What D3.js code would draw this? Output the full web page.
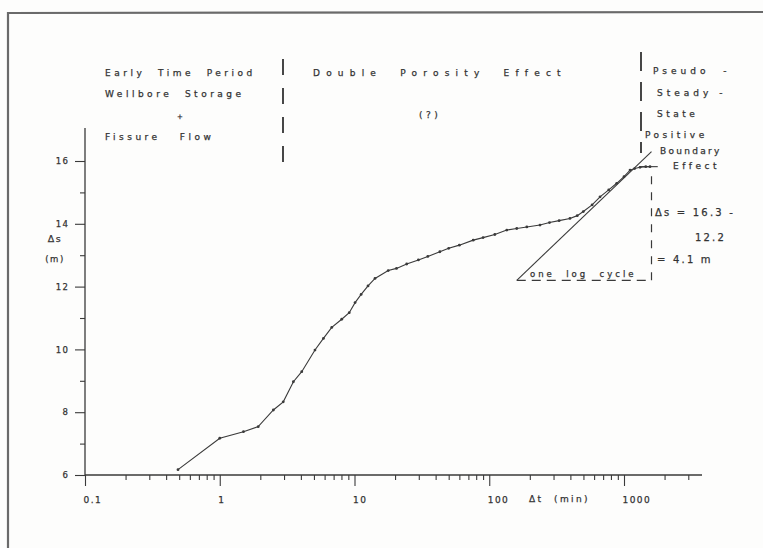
<!DOCTYPE html>
<html>
<head>
<meta charset="utf-8">
<script src="https://cdn.jsdelivr.net/npm/d3@7"></script>
<style>
  html, body { margin: 0; padding: 0; background: #fdfdfc; }
  svg { display: block; }
  text { font-family: "DejaVu Sans", sans-serif; fill: #333; stroke: #333; stroke-width: 0.25px; white-space: pre; }
</style>
</head>
<body>
<svg id="chart" width="763" height="548"></svg>
<script>
// Drawdown during the pressure test (semi-log plot)
const timeMin = [0.49, 1.0, 1.5, 1.93, 2.5, 2.96, 3.52, 4.06, 5.09, 5.88, 6.78, 8.04, 9.14, 10.1,
  11.2, 12.6, 14.2, 17.8, 20.5, 24.4, 29.8, 35, 43, 50, 60, 76, 90, 110, 135, 160, 190, 238,
  280, 330, 397, 450, 499, 580, 664, 770, 883, 1000, 1109, 1200, 1315, 1450, 1560];
const drawdownM = [6.17, 7.17, 7.38, 7.54, 8.07, 8.33, 8.97, 9.29, 9.98, 10.35, 10.70, 10.96, 11.17, 11.49,
  11.75, 12.02, 12.26, 12.51, 12.58, 12.72, 12.85, 12.96, 13.11, 13.22, 13.32, 13.48, 13.56, 13.66, 13.80, 13.85, 13.90, 13.96,
  14.04, 14.10, 14.17, 14.26, 14.39, 14.60, 14.86, 15.08, 15.29, 15.50, 15.71, 15.76, 15.80, 15.82, 15.82];

// straight line fitted through the late-time data, spanning one log cycle
const slopeTimes = [160, 1600];
const slopeDrawdown = [12.2, 16.3];

const xMajorTicks = [0.1, 1, 10, 100, 1000];
const xMajorLabels = ["0.1", "1", "10", "100", "1000"];
const yMajorTicks = [6, 8, 10, 12, 14, 16];
const yMinorTicks = [7, 9, 11, 13, 15];

const svg = d3.select("#chart");
const ink = "#3a3a3a";

const x = d3.scaleLog().domain([0.1, 1000]).range([85, 624]);
const y = d3.scaleLinear().domain([6, 16]).range([475, 161]);

// frame
svg.append("line").attr("x1", 8).attr("y1", 13).attr("x2", 763).attr("y2", 12)
  .attr("stroke", "#6a6a6a").attr("stroke-width", 2.2);
svg.append("line").attr("x1", 8).attr("y1", 12).attr("x2", 8).attr("y2", 548)
  .attr("stroke", "#6a6a6a").attr("stroke-width", 2.2);

// x axis
const xMinor = [];
[0.1, 1, 10, 100, 1000].forEach(dec => {
  for (let k = 2; k <= 9; k++) {
    const v = dec * k;
    if (v < 3500) xMinor.push(v);
  }
});
const xAxisG = svg.append("g").attr("transform", "translate(0,475)");
xAxisG.call(d3.axisBottom(x).tickValues(xMinor).tickSize(5).tickFormat(""))
  .call(g => g.select(".domain").remove());
xAxisG.append("g").call(d3.axisBottom(x).tickValues(xMajorTicks).tickSize(11)
    .tickFormat((d, i) => xMajorLabels[i]).tickPadding(11))
  .call(g => g.select(".domain").remove())
  .call(g => g.selectAll("text").attr("text-anchor", "start").attr("x", -2)
    .style("font-size", "9px").style("letter-spacing", "1.4px").style("fill", "#333"));
xAxisG.selectAll(".tick line").attr("stroke", ink).attr("stroke-width", 1.1);
xAxisG.append("line").attr("x1", 85).attr("x2", 702).attr("y1", 0).attr("y2", 0)
  .attr("stroke", ink).attr("stroke-width", 1.3);
xAxisG.append("text").attr("x", 529).attr("y", 27).attr("text-anchor", "start")
  .style("font-size", "9px").style("letter-spacing", "2.4px").text("Δt  (min)");

// y axis
const yAxisG = svg.append("g").attr("transform", "translate(85,0)");
yAxisG.call(d3.axisLeft(y).tickValues(yMinorTicks).tickSize(5).tickFormat(""))
  .call(g => g.select(".domain").remove());
yAxisG.append("g").call(d3.axisLeft(y).tickValues(yMajorTicks).tickSize(10).tickPadding(6))
  .call(g => g.select(".domain").remove())
  .call(g => g.selectAll("text").style("font-size", "8.5px").style("letter-spacing", "1.2px").style("fill", "#333"));
yAxisG.selectAll(".tick line").attr("stroke", ink).attr("stroke-width", 1.1);
yAxisG.append("line").attr("x1", 0).attr("x2", 0).attr("y1", 128).attr("y2", 475)
  .attr("stroke", ink).attr("stroke-width", 1.3);
svg.append("text").attr("x", 55).attr("y", 242).attr("text-anchor", "middle")
  .style("font-size", "9.5px").style("letter-spacing", "1.5px").text("Δs");
svg.append("text").attr("x", 55).attr("y", 262).attr("text-anchor", "middle")
  .style("font-size", "8.5px").style("letter-spacing", "1.5px").text("(m)");

// measured curve
const pts = timeMin.map((t, i) => [x(t), y(drawdownM[i])]);
svg.append("path").attr("d", d3.line()(pts))
  .attr("fill", "none").attr("stroke", ink).attr("stroke-width", 1.1);
svg.append("g").selectAll("circle").data(pts).join("circle")
  .attr("cx", d => d[0]).attr("cy", d => d[1]).attr("r", 1.4).attr("fill", ink);
// short plateau mark at the end of the curve
svg.append("line")
  .attr("x1", x(1300)).attr("x2", x(1780))
  .attr("y1", y(drawdownM[drawdownM.length - 1])).attr("y2", y(drawdownM[drawdownM.length - 1]))
  .attr("stroke", ink).attr("stroke-width", 1.1);

// semi-log straight line and its one-log-cycle triangle
svg.append("line")
  .attr("x1", x(slopeTimes[0])).attr("y1", y(slopeDrawdown[0]))
  .attr("x2", x(slopeTimes[1])).attr("y2", y(slopeDrawdown[1]))
  .attr("stroke", ink).attr("stroke-width", 1.1);
svg.append("line")
  .attr("x1", x(slopeTimes[0])).attr("y1", y(slopeDrawdown[0]))
  .attr("x2", x(slopeTimes[1])).attr("y2", y(slopeDrawdown[0]))
  .attr("stroke", ink).attr("stroke-width", 1.2).attr("stroke-dasharray", "9,6");
svg.append("line")
  .attr("x1", x(slopeTimes[1])).attr("y1", y(slopeDrawdown[0]))
  .attr("x2", x(slopeTimes[1])).attr("y2", y(15.6))
  .attr("stroke", ink).attr("stroke-width", 1.2).attr("stroke-dasharray", "8,8");
svg.append("text").attr("x", 530).attr("y", 277)
  .style("font-size", "8.5px").style("letter-spacing", "3px").text("one  log  cycle");

// Δs annotation
const note = svg.append("g").style("font-size", "10px").style("letter-spacing", "2.2px");
note.append("text").attr("x", 655).attr("y", 216).text("Δs = 16.3 -");
note.append("text").attr("x", 695).attr("y", 241).text("12.2");
note.append("text").attr("x", 657).attr("y", 263).text("= 4.1 m");

// flow-period separators
const sep = svg.append("g").attr("stroke", "#333").attr("stroke-width", 1.8).attr("fill", "none");
sep.append("line").attr("x1", 283).attr("x2", 283).attr("y1", 59).attr("y2", 163)
  .attr("stroke-dasharray", "16,13");
sep.append("line").attr("x1", 641).attr("x2", 641).attr("y1", 52).attr("y2", 153)
  .attr("stroke-dasharray", "19,11");

// flow-period labels
const lab = svg.append("g").style("font-size", "9px").style("letter-spacing", "3.5px");
lab.append("text").attr("x", 105).attr("y", 76).text("Early  Time  Period");
lab.append("text").attr("x", 105).attr("y", 97).text("Wellbore  Storage");
lab.append("text").attr("x", 177).attr("y", 119).style("font-size", "7px").text("+");
lab.append("text").attr("x", 105).attr("y", 140).text("Fissure   Flow");
lab.append("text").attr("x", 313).attr("y", 76).style("letter-spacing", "6.2px").text("Double  Porosity  Effect");
lab.append("text").attr("x", 419).attr("y", 118).text("(?)");
lab.append("text").attr("x", 653).attr("y", 74).style("letter-spacing", "4px").text("Pseudo  -");
lab.append("text").attr("x", 657).attr("y", 96).style("letter-spacing", "4px").text("Steady -");
lab.append("text").attr("x", 657).attr("y", 117).text("State");
lab.append("text").attr("x", 645).attr("y", 138).text("Positive");
lab.append("text").attr("x", 660).attr("y", 154).style("letter-spacing", "2.3px").text("Boundary");
lab.append("text").attr("x", 673).attr("y", 169).text("Effect");
</script>
</body>
</html>
